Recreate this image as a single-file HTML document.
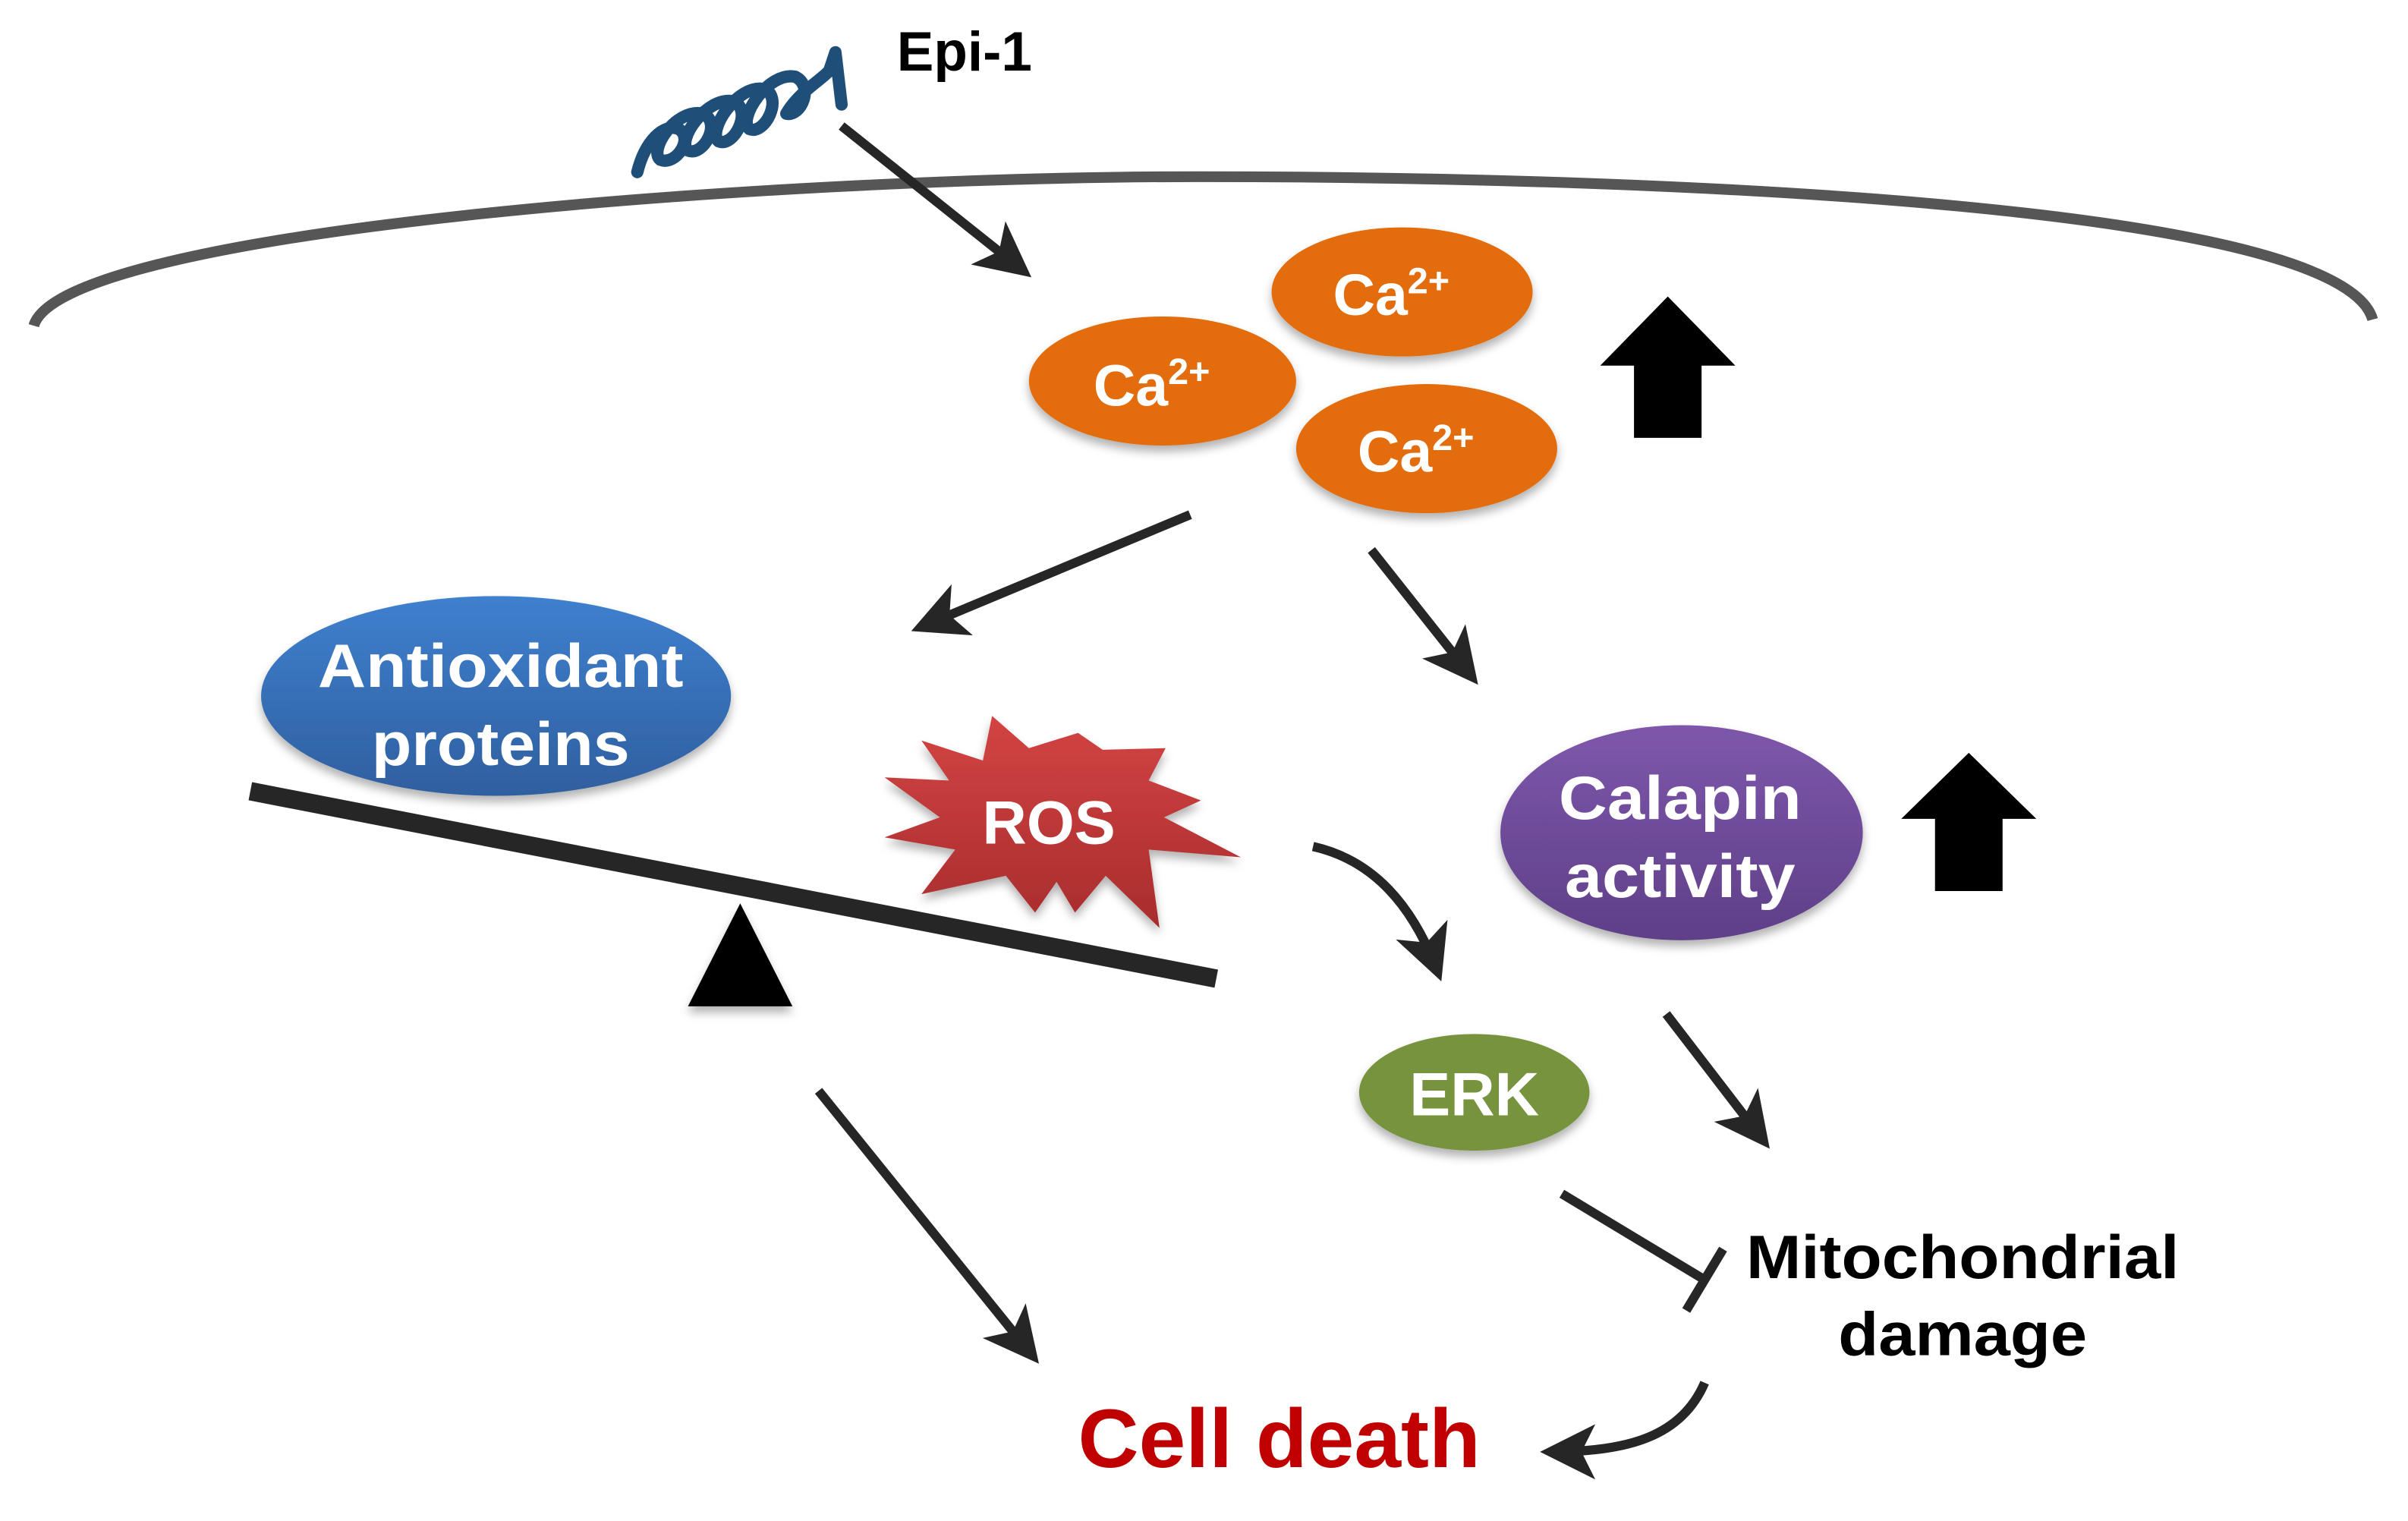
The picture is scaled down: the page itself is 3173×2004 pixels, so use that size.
<!DOCTYPE html>
<html><head><meta charset="utf-8"><style>
html,body{margin:0;padding:0;background:#fff;}
svg{display:block;}
text{font-family:"Liberation Sans",Arial,sans-serif;font-weight:bold;}
</style></head><body>
<svg width="3173" height="2004" viewBox="0 0 1568 990" preserveAspectRatio="none" xmlns="http://www.w3.org/2000/svg">
<defs>
<marker id="ah" viewBox="0 0 10 10" refX="8" refY="5" markerWidth="6" markerHeight="6" markerUnits="strokeWidth" orient="auto">
<path d="M0,0 L10,5 L0,10 L2.5,5 Z" fill="#262626"/>
</marker>
<linearGradient id="gb" x1="0" y1="0" x2="0" y2="1"><stop offset="0" stop-color="#3f80cf"/><stop offset="1" stop-color="#2f5f9f"/></linearGradient>
<linearGradient id="gp" x1="0" y1="0" x2="0" y2="1"><stop offset="0" stop-color="#7e57ab"/><stop offset="1" stop-color="#5f3f88"/></linearGradient>
<linearGradient id="gr" x1="0" y1="0" x2="0" y2="1"><stop offset="0" stop-color="#d34444"/><stop offset="1" stop-color="#a82c2c"/></linearGradient>
<filter id="sh" x="-20%" y="-20%" width="140%" height="150%"><feDropShadow dx="0" dy="4" stdDeviation="3" flood-color="#000" flood-opacity="0.3"/></filter>
</defs>

<path d="M22,212 C40,150 500,115 780,115 C1100,115 1525,135 1545,208" fill="none" stroke="#565656" stroke-width="7"/>

<path d="M415,112 C420,92 432,80 442,84 C452,90 440,108 430,104 C422,98 440,70 458,74 C470,80 458,102 448,98 C440,92 460,62 478,66 C490,72 478,96 468,92 C460,86 480,54 498,58 C510,64 498,88 488,84 C480,78 500,46 518,50 C530,56 522,76 512,74 C520,60 535,52 540,46 L544,34 L548,68" fill="none" stroke="#1f4e79" stroke-width="8" stroke-linecap="round" stroke-linejoin="round"/>
<text x="584" y="46" font-size="36" fill="#000">Epi-1</text>

<g stroke="#262626" stroke-width="6" fill="none" marker-end="url(#ah)">
<line x1="548" y1="82" x2="666" y2="176"/>
<line x1="775" y1="335" x2="600" y2="408"/>
<line x1="893" y1="358" x2="958" y2="440"/>
<line x1="1085" y1="660" x2="1148" y2="742"/>
<line x1="533" y1="710" x2="672" y2="882"/>
<path d="M855,551 C895,560 920,590 936,632"/>
<path d="M1110,900 C1095,935 1060,945 1010,945"/>
</g>

<line x1="1017" y1="777" x2="1110" y2="833" stroke="#262626" stroke-width="6"/>
<line x1="1098" y1="853" x2="1122" y2="813" stroke="#262626" stroke-width="6"/>

<g filter="url(#sh)" fill="#e36c0a">
<ellipse cx="913" cy="190" rx="85" ry="42"/>
<ellipse cx="757" cy="248" rx="87" ry="42"/>
<ellipse cx="929" cy="292" rx="85" ry="42"/>
</g>
<g fill="#fff" font-size="38">
<text x="868" y="205">Ca<tspan font-size="24" dy="-14">2+</tspan></text>
<text x="712" y="264">Ca<tspan font-size="24" dy="-14">2+</tspan></text>
<text x="884" y="307">Ca<tspan font-size="24" dy="-14">2+</tspan></text>
</g>

<polygon points="1086,193 1130,238 1108,238 1108,285 1064,285 1064,238 1042,238" fill="#000"/>
<polygon points="1282,490 1326,533 1304,533 1304,580 1260,580 1260,533 1238,533" fill="#000"/>

<ellipse cx="323" cy="453" rx="153" ry="65" fill="url(#gb)" filter="url(#sh)"/>
<text x="326" y="447" font-size="40" fill="#fff" text-anchor="middle" textLength="238" lengthAdjust="spacingAndGlyphs">Antioxidant</text>
<text x="326" y="498" font-size="40" fill="#fff" text-anchor="middle" textLength="168" lengthAdjust="spacingAndGlyphs">proteins</text>

<line x1="163" y1="515" x2="792" y2="637" stroke="#262626" stroke-width="12"/>
<polygon points="448,655 482,588 516,655" fill="#000" filter="url(#sh)"/>

<polygon points="576,545 612,532 576,506 618,508 600,482 640,495 646,466 670,487 702,477 718,488 759,487 748,508 782,521 758,532 808,558 748,553 755,604 720,570 700,594 688,574 674,594 655,570 600,582 622,553" fill="url(#gr)" filter="url(#sh)"/>
<text x="683" y="549" font-size="40" fill="#fff" text-anchor="middle">ROS</text>

<ellipse cx="1095" cy="542" rx="118" ry="70" fill="url(#gp)" filter="url(#sh)"/>
<text x="1094" y="533" font-size="40" fill="#fff" text-anchor="middle" textLength="158" lengthAdjust="spacingAndGlyphs">Calapin</text>
<text x="1094" y="584" font-size="40" fill="#fff" text-anchor="middle" textLength="150" lengthAdjust="spacingAndGlyphs">activity</text>

<ellipse cx="960" cy="711" rx="75" ry="38" fill="#77933c" filter="url(#sh)"/>
<text x="960" y="726" font-size="40" fill="#fff" text-anchor="middle">ERK</text>

<text x="1278" y="832" font-size="40" fill="#000" text-anchor="middle" textLength="282" lengthAdjust="spacingAndGlyphs">Mitochondrial</text>
<text x="1278" y="882" font-size="40" fill="#000" text-anchor="middle" textLength="162" lengthAdjust="spacingAndGlyphs">damage</text>

<text x="833" y="955" font-size="54" fill="#c00000" text-anchor="middle" textLength="262" lengthAdjust="spacingAndGlyphs">Cell death</text>
</svg>
</body></html>
